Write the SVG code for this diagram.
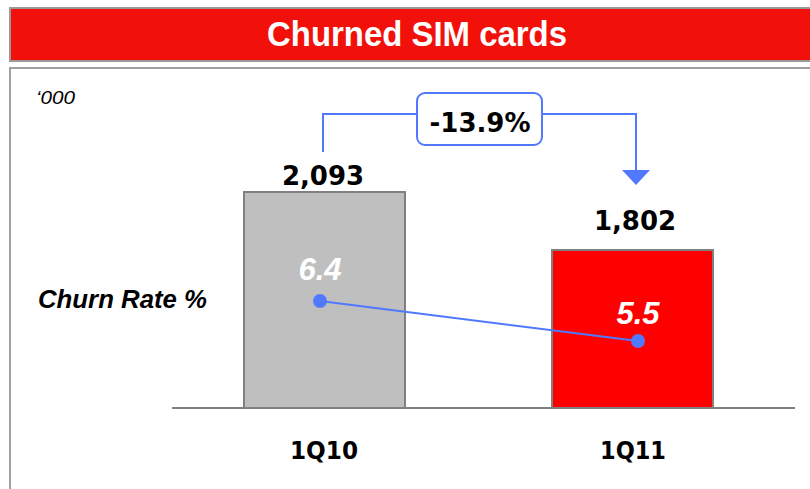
<svg xmlns="http://www.w3.org/2000/svg" width="810" height="489" viewBox="0 0 810 489">
<style>
.num{font-family:"DejaVu Sans",sans-serif;font-weight:bold;font-size:26px;fill:#000;text-anchor:middle}
.cat{font-family:"DejaVu Sans",sans-serif;font-weight:bold;font-size:24px;fill:#000;text-anchor:middle}
.rate{font-family:"Liberation Sans",sans-serif;font-weight:bold;font-style:italic;font-size:31px;fill:#fff;text-anchor:middle}
.conn{fill:none;stroke:#5079FF;stroke-width:2}
</style>
<rect x="0" y="0" width="810" height="489" fill="#fff"/>
<g id="title">
<rect x="10" y="8" width="810" height="53" fill="#F2110A" stroke="#9A9A9A" stroke-width="2"/>
<text x="417" y="46" font-family="Liberation Sans, sans-serif" font-weight="bold" font-size="35" fill="#fff" text-anchor="middle" textLength="300" lengthAdjust="spacingAndGlyphs">Churned SIM cards</text>
</g>
<g id="panel">
<rect x="10" y="68" width="810" height="440" fill="#fff" stroke="#A0A0A0" stroke-width="2"/>
<text x="36" y="104" font-family="Liberation Sans, sans-serif" font-style="italic" font-size="19" fill="#000" textLength="39" lengthAdjust="spacingAndGlyphs">‘000</text>
<text x="38" y="308" font-family="Liberation Sans, sans-serif" font-weight="bold" font-style="italic" font-size="25" fill="#000" textLength="169" lengthAdjust="spacingAndGlyphs">Churn Rate %</text>
</g>
<g id="bar-1Q10">
<rect x="244" y="192" width="161" height="216" fill="#BFBFBF" stroke="#808080" stroke-width="2"/>
<text class="num" x="323" y="185">2,093</text>
<text class="cat" x="324" y="459" textLength="68" lengthAdjust="spacingAndGlyphs">1Q10</text>
<text class="rate" x="320" y="280">6.4</text>
</g>
<g id="bar-1Q11">
<rect x="552" y="250" width="161" height="158" fill="#FF0000" stroke="#808080" stroke-width="2"/>
<text class="num" x="635" y="230">1,802</text>
<text class="cat" x="633" y="459" textLength="66" lengthAdjust="spacingAndGlyphs">1Q11</text>
<text class="rate" x="638" y="324">5.5</text>
</g>
<g id="axis">
<line x1="172" y1="408" x2="795" y2="408" stroke="#808080" stroke-width="2"/>
</g>
<g id="connectors">
<line class="conn" x1="320" y1="301" x2="638" y2="341"/>
<circle cx="320" cy="301" r="7" fill="#5079FF"/>
<circle cx="638" cy="341" r="7" fill="#5079FF"/>
<polyline class="conn" points="323,152 323,114 417,114"/>
<polyline class="conn" points="542,114 636,114 636,171"/>
<polygon points="622,170 650,170 636,185" fill="#5079FF"/>
</g>
<g id="change-label">
<rect x="417" y="93" width="125" height="52" rx="8" fill="#fff" stroke="#5079FF" stroke-width="2"/>
<text class="num" x="480" y="132">-13.9%</text>
</g>
</svg>
